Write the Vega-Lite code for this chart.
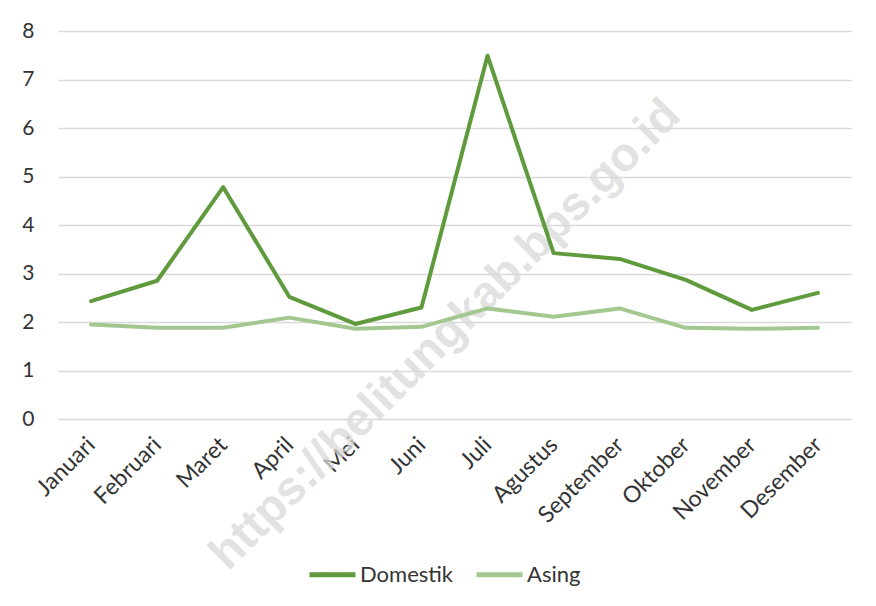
{
  "$schema": "https://vega.github.io/schema/vega-lite/v6.json",
  "width": 793,
  "height": 388,
  "autosize": {"type": "none"},
  "padding": {"left": 58, "top": 31, "right": 25, "bottom": 187},
  "background": "white",
  "config": {
    "view": {"stroke": null},
    "font": "Lato",
    "axis": {"labelFont": "Lato", "labelColor": "#333333"}
  },
  "layer": [
    {
      "data": {"values": [{"wm": "https://belitungkab.bps.go.id", "month": "Juni", "v": 1.24}]},
      "mark": {"type": "text", "angle": -45, "font": "Liberation Sans", "fontWeight": "bold", "fontSize": 47, "color": "#d9d9d9", "opacity": 0.75, "align": "center", "baseline": "middle", "dx": 34},
      "encoding": {
        "x": {"field": "month", "type": "nominal", "sort": ["Januari","Februari","Maret","April","Mei","Juni","Juli","Agustus","September","Oktober","November","Desember"]},
        "y": {"field": "v", "type": "quantitative"},
        "text": {"field": "wm"}
      }
    },
    {
      "data": {"values": [
        {"month": "Januari", "series": "Domestik", "value": 2.43},
        {"month": "Februari", "series": "Domestik", "value": 2.85},
        {"month": "Maret", "series": "Domestik", "value": 4.78},
        {"month": "April", "series": "Domestik", "value": 2.52},
        {"month": "Mei", "series": "Domestik", "value": 1.96},
        {"month": "Juni", "series": "Domestik", "value": 2.30},
        {"month": "Juli", "series": "Domestik", "value": 7.49},
        {"month": "Agustus", "series": "Domestik", "value": 3.42},
        {"month": "September", "series": "Domestik", "value": 3.30},
        {"month": "Oktober", "series": "Domestik", "value": 2.87},
        {"month": "November", "series": "Domestik", "value": 2.25},
        {"month": "Desember", "series": "Domestik", "value": 2.60},
        {"month": "Januari", "series": "Asing", "value": 1.95},
        {"month": "Februari", "series": "Asing", "value": 1.88},
        {"month": "Maret", "series": "Asing", "value": 1.88},
        {"month": "April", "series": "Asing", "value": 2.09},
        {"month": "Mei", "series": "Asing", "value": 1.86},
        {"month": "Juni", "series": "Asing", "value": 1.90},
        {"month": "Juli", "series": "Asing", "value": 2.28},
        {"month": "Agustus", "series": "Asing", "value": 2.11},
        {"month": "September", "series": "Asing", "value": 2.28},
        {"month": "Oktober", "series": "Asing", "value": 1.88},
        {"month": "November", "series": "Asing", "value": 1.86},
        {"month": "Desember", "series": "Asing", "value": 1.88}
      ]},
      "mark": {"type": "line", "strokeWidth": 4, "strokeCap": "round", "strokeJoin": "round"},
      "encoding": {
        "x": {
          "field": "month", "type": "nominal",
          "sort": ["Januari","Februari","Maret","April","Mei","Juni","Juli","Agustus","September","Oktober","November","Desember"],
          "scale": {"type": "point", "padding": 0.5},
          "axis": {"title": null, "labelAngle": -45, "labelAlign": "right", "labelBaseline": "middle", "labelFontSize": 23, "domain": false, "ticks": false, "labelPadding": 22, "grid": false}
        },
        "y": {
          "field": "value", "type": "quantitative",
          "scale": {"domain": [0, 8], "nice": false},
          "axis": {"title": null, "values": [0,1,2,3,4,5,6,7,8], "labelFontSize": 21, "domain": false, "ticks": false, "labelPadding": 24, "grid": true, "gridColor": "#d9d9d9", "gridWidth": 1.3}
        },
        "color": {
          "field": "series", "type": "nominal",
          "scale": {"domain": ["Domestik", "Asing"], "range": ["#5f9a3c", "#a2c78f"]},
          "legend": {
            "title": null, "orient": "none", "direction": "horizontal", "legendX": 249, "legendY": 518,
            "symbolType": "stroke", "symbolStrokeWidth": 5, "symbolSize": 2116,
            "labelFont": "Lato", "labelFontSize": 22, "labelColor": "#333333",
            "labelOffset": 2, "columnPadding": 12
          }
        }
      }
    }
  ]
}
